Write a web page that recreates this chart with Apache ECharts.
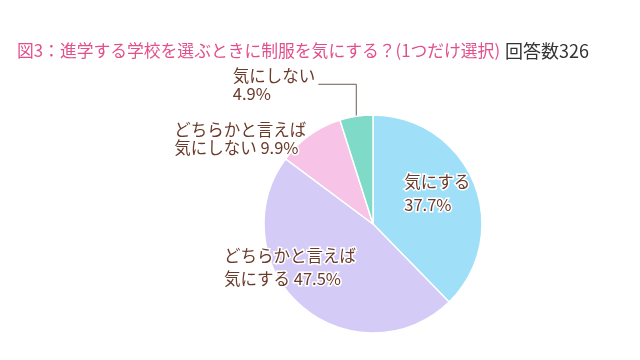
<!DOCTYPE html>
<html>
<head>
<meta charset="utf-8">
<script src="https://cdn.jsdelivr.net/npm/echarts@6/dist/echarts.min.js"></script>
<style>
html,body{margin:0;padding:0;background:#fff;}
#chart{width:640px;height:360px;}
</style>
</head>
<body>
<div id="chart"></div>
<script>
// ---- data ----
const titleMain = '図3：進学する学校を選ぶときに制服を気にする？(1つだけ選択)';
const titleSub = '回答数326';
const categories = ['気にする', 'どちらかと言えば気にする', 'どちらかと言えば気にしない', '気にしない'];
const labelNames = ['気にする', 'どちらかと言えば\n気にする', 'どちらかと言えば\n気にしない', '気にしない'];
const values = [37.7, 47.5, 9.9, 4.9];

// ---- styling ----
const colors = ['#9fdff8', '#d4ccf6', '#f7c3e6', '#7fdac7'];
const labelColor = '#6a3a2a';
const fontFamily = '"Noto Sans CJK JP", "Noto Sans", sans-serif';
const labelStyles = [
  { position: 'inside', lineHeight: 23, nudge: [11, -9] },
  { position: 'inside', lineHeight: 23, nudge: [-45, 0] },
  { position: 'outside', lineHeight: 18, nudge: [-2, 4], line: false },
  { position: 'outside', lineHeight: 18, nudge: [0, 0], line: true }
];

function labelText(i) {
  const v = values[i].toFixed(1) + '%';
  const name = labelNames[i];
  const full = name.indexOf('\n') >= 0 ? name + ' ' + v : name + '\n' + v;
  return full.split('\n').map(s => '{t|' + s + '}').join('\n');
}

const data = categories.map((c, i) => {
  const ls = labelStyles[i];
  return {
    name: c,
    value: values[i],
    itemStyle: { color: colors[i] },
    label: {
      position: ls.position,
      formatter: () => labelText(i),
      rich: { t: { align: 'left', lineHeight: ls.lineHeight, fontSize: 16.5, color: labelColor, fontFamily: fontFamily, textBorderColor: '#fff', textBorderWidth: 3 } }
    },
    labelLine: ls.position === 'outside' ? {
      show: !!ls.line,
      length: ls.line ? 32.4 : 0,
      length2: ls.line ? 33 : 0,
      lineStyle: { color: '#6e5a55', width: 1 }
    } : { show: false }
  };
});

const chart = echarts.init(document.getElementById('chart'), null, { renderer: 'canvas' });
chart.setOption({
  backgroundColor: '#ffffff',
  animation: false,
  title: {
    text: '{p|' + titleMain + '} {g|' + titleSub + '}',
    left: 12,
    top: 37,
    textStyle: {
      fontWeight: 'normal',
      rich: {
        p: { fontSize: 16.8, fontWeight: 'normal', color: '#e2508c', fontFamily: fontFamily },
        g: { fontSize: 18, fontWeight: 'normal', color: '#333333', fontFamily: fontFamily }
      }
    }
  },
  series: [{
    type: 'pie',
    center: [373, 224],
    radius: 109,
    startAngle: 90,
    clockwise: true,
    avoidLabelOverlap: false,
    itemStyle: { borderColor: '#ffffff', borderWidth: 1.5 },
    label: { distanceToLabelLine: 3, fontFamily: fontFamily },
    labelLine: { smooth: false },
    emphasis: { disabled: true },
    data: data,
    labelLayout: function (p) {
      const ls = labelStyles[p.dataIndex];
      if (ls.line) {
        const pts = p.labelLinePoints;
        if (pts && pts.length === 3) {
          return { labelLinePoints: [pts[0], [pts[0][0], pts[1][1]], pts[2]] };
        }
        return {};
      }
      const r = p.labelRect;
      const ax = p.align === 'right' ? r.x + r.width : (p.align === 'center' ? r.x + r.width / 2 : r.x);
      const ay = p.verticalAlign === 'bottom' ? r.y + r.height : (p.verticalAlign === 'middle' ? r.y + r.height / 2 : r.y);
      return { x: ax + ls.nudge[0], y: ay + ls.nudge[1] };
    }
  }]
});
</script>
</body>
</html>
